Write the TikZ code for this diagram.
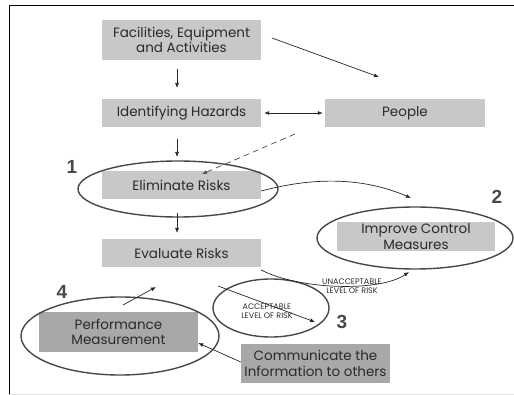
\documentclass[tikz,border=0pt]{standalone}
\usepackage{fontspec}
\setmainfont{Poppins}
\newfontfamily\numfont{Liberation Sans}
\usetikzlibrary{arrows.meta}
\definecolor{boxlight}{HTML}{C8C8C8}
\definecolor{boxdark}{HTML}{A8A8A8}
\definecolor{inkgrey}{HTML}{2A2A2A}
\definecolor{ringgrey}{HTML}{484848}
\begin{document}
\begin{tikzpicture}[x=1pt,y=-1pt,
  every node/.style={font=\fontsize{13.5}{15.5}\selectfont, text=inkgrey},
  stepbox/.style={fill=boxlight, align=center, inner sep=0pt},
  darkbox/.style={fill=boxdark, align=center, inner sep=0pt},
  ring/.style={draw=ringgrey, line width=1.4pt},
  flow/.style={-{Latex[length=5pt,width=4pt]}, line width=0.7pt, draw=black!85},
  num/.style={font=\numfont\bfseries\fontsize{19}{19}\selectfont, text=ringgrey},
  risklabel/.style={font=\fontsize{8}{9}\selectfont, align=center, text=inkgrey}]
  \useasboundingbox (0,0) rectangle (514,395);
  % frame
  \draw[line width=0.8pt] (9,395) -- (9,5) -- (514,5);
  \draw[black!12, line width=0.6pt] (9,394) -- (514,394);

  % boxes
  \node[stepbox, minimum width=159pt, minimum height=40pt] (fac) at (181.5,40) {Facilities, Equipment\\and Activities};
  \node[stepbox, minimum width=159pt, minimum height=28pt] (haz) at (181.5,113) {Identifying Hazards};
  \node[stepbox, minimum width=160pt, minimum height=28pt] (ppl) at (405,113) {People};
  \node[stepbox, minimum width=159pt, minimum height=28pt] (elim) at (181.5,185) {Eliminate Risks};
  \node[stepbox, minimum width=159pt, minimum height=28pt] (eval) at (181.5,253) {Evaluate Risks};
  \node[stepbox, minimum width=158pt, minimum height=29pt] (imp) at (416,236.5) {Improve Control\\Measures};
  \node[darkbox, minimum width=159pt, minimum height=40pt] (perf) at (118.5,332) {Performance\\Measurement};
  \node[darkbox, minimum width=149pt, minimum height=39pt] (comm) at (315.5,363.5) {Communicate the\\Information to others};

  % rings
  \draw[ring] (178,189) ellipse [x radius=100, y radius=28];
  \draw[ring] (415,238) ellipse [x radius=98, y radius=31];
  \draw[ring] (271,308) ellipse [x radius=58, y radius=29];
  \draw[ring] (120,336) ellipse [x radius=99, y radius=39];

  % ring numbers
  \node[num] (n1) at (72,167) {1};
  \node[num] (n2) at (497,197) {2};
  \node[num] (n3) at (342,322) {3};
  \node[num] (n4) at (62,292) {4};

  % free ends of connectors
  \coordinate (facA) at (177,69);
  \coordinate (facB) at (177,88);
  \coordinate (facC) at (272,38);
  \coordinate (pplIn) at (379,77);
  \coordinate (hazA) at (177,139);
  \coordinate (hazB) at (177,157);
  \coordinate (dashA) at (295,134);
  \coordinate (dashB) at (202,174);
  \coordinate (elimA) at (177,213);
  \coordinate (elimB) at (177,233);
  \coordinate (imTop) at (411,198);
  \coordinate (imBot) at (409,272);
  \coordinate (accA) at (218,286);
  \coordinate (accB) at (315,322);
  \coordinate (perfA) at (123,305);
  \coordinate (perfB) at (156,287);

  % connectors
  \draw[flow] (facA) -- (facB);
  \draw[flow] (facC) -- (pplIn);
  \draw[{Latex[length=5pt,width=4pt]}-{Latex[length=5pt,width=4pt]}, line width=0.7pt, draw=black!85] ([xshift=3pt]haz.east) -- ([xshift=-2pt]ppl.west);
  \draw[flow] (hazA) -- (hazB);
  \draw[flow, dashed, dash pattern=on 6pt off 4pt, draw=black!70] (dashA) -- (dashB);
  \draw[flow] (elim.east |- 0,191) .. controls (310,178) and (360,176) .. (imTop);
  \draw[flow] (elimA) -- (elimB);
  \draw[flow] (eval.east |- 0,270) .. controls (300,290) and (380,292) .. (imBot);
  \draw[flow] (accA) -- (accB);
  \draw[flow] (perfA) -- (perfB);
  \draw[flow] (comm.west |- 0,362) -- (perf.east |- 0,343);

  % decision labels
  \node[risklabel] (unacc) at (352,286) {UNACCEPTABLE\\LEVEL OF RISK};
  \node[risklabel] (acc) at (267,311) {ACCEPTABLE\\LEVEL OF RISK};
\end{tikzpicture}
\end{document}
